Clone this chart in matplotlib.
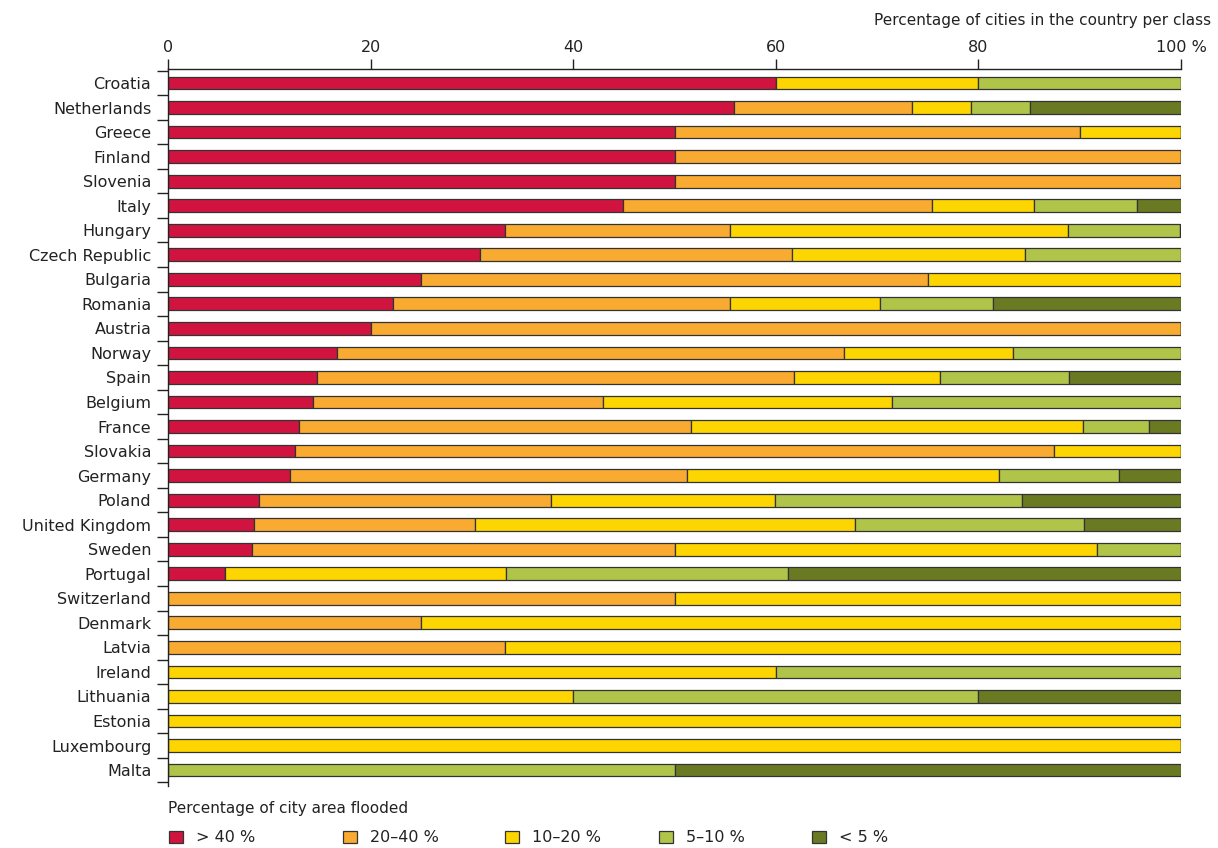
import matplotlib
matplotlib.use('Agg')
import matplotlib.pyplot as plt
import numpy as np

plt.rcParams['font.family'] = ['DejaVu Sans']
plt.rcParams['text.color'] = '#222222'
plt.rcParams['xtick.color'] = '#222222'
plt.rcParams['ytick.color'] = '#222222'

# 国家（从上到下）
countries = ['Croatia', 'Netherlands', 'Greece', 'Finland', 'Slovenia', 'Italy', 'Hungary',
             'Czech Republic', 'Bulgaria', 'Romania', 'Austria', 'Norway', 'Spain', 'Belgium',
             'France', 'Slovakia', 'Germany', 'Poland', 'United Kingdom', 'Sweden', 'Portugal',
             'Switzerland', 'Denmark', 'Latvia', 'Ireland', 'Lithuania', 'Estonia', 'Luxembourg',
             'Malta']

# 每个类别的百分比
over_40 = [60, 55.9, 50, 50, 50, 44.9, 33.3, 30.8, 25, 22.2, 20, 16.7, 14.7, 14.3,
           12.9, 12.5, 12.0, 9.0, 8.5, 8.3, 5.6, 0, 0, 0, 0, 0, 0, 0, 0]
from_20_40 = [0, 17.5, 40, 50, 50, 30.5, 22.2, 30.8, 50, 33.3, 80, 50, 47.1, 28.6,
              38.7, 75, 39.2, 28.8, 21.8, 41.7, 0, 50, 25, 33.3, 0, 0, 0, 0, 0]
from_10_20 = [20, 5.9, 10, 0, 0, 10.1, 33.3, 23.0, 25, 14.8, 0, 16.7, 14.4, 28.6,
              38.7, 12.5, 30.8, 22.1, 37.5, 41.7, 27.8, 50, 75, 66.7, 60, 40, 100, 100, 0]
from_5_10 = [20, 5.8, 0, 0, 0, 10.2, 11.1, 15.4, 0, 11.1, 0, 16.6, 12.7, 28.5,
             6.5, 0, 11.9, 24.4, 22.6, 8.3, 27.8, 0, 0, 0, 40, 40, 0, 0, 50]
under_5 = [0, 14.9, 0, 0, 0, 4.3, 0, 0, 0, 18.6, 0, 0, 11.1, 0,
           3.2, 0, 6.1, 15.7, 9.6, 0, 38.8, 0, 0, 0, 0, 20, 0, 0, 50]

class_labels = ['> 40 %', '20\u201340 %', '10\u201320 %', '5\u201310 %', '< 5 %']
class_colors = ['#D0143F', '#F9AA30', '#FDD500', '#B0C449', '#6A7A22']

fig = plt.figure(figsize=(12.18, 8.48), dpi=100)
ax = fig.add_axes([168 / 1218, 1 - 786 / 848, 1013 / 1218, 717 / 848])

y = np.arange(len(countries))
left = np.zeros(len(countries))
bars = []
for vals, lab, col in zip([over_40, from_20_40, from_10_20, from_5_10, under_5],
                          class_labels, class_colors):
    vals = np.array(vals, dtype=float)
    b = ax.barh(y, vals, left=left, height=0.52, color=col, edgecolor='#333333',
                linewidth=0.9, label=lab)
    bars.append(b)
    left = left + vals

# 坐标轴样式
ax.set_xlim(0, 100)
ax.set_ylim(28.65, -0.57)
ax.xaxis.tick_top()
ax.set_xticks([0, 20, 40, 60, 80, 100])
ax.set_xticklabels(['0', '20', '40', '60', '80', '100 %'])
ax.tick_params(axis='x', direction='out', length=7, width=1, pad=3, labelsize=11.5)

ax.set_yticks(y)
ax.set_yticklabels(countries)
ax.tick_params(axis='y', which='major', length=0, pad=12, labelsize=11.5)
ax.set_yticks(np.arange(-0.5, len(countries), 1), minor=True)
ax.tick_params(axis='y', which='minor', direction='out', length=8, width=1)

for s in ['right', 'bottom']:
    ax.spines[s].set_visible(False)
for s in ['top', 'left']:
    ax.spines[s].set_color('#222222')
    ax.spines[s].set_linewidth(1)

fig.text(1211 / 1218, 1 - 20 / 848, 'Percentage of cities in the country per class',
         ha='right', va='center', fontsize=11)

# 图例
fig.text(168 / 1218, 1 - 808 / 848, 'Percentage of city area flooded',
         ha='left', va='center', fontsize=11)
leg_x = [166, 340, 502, 656, 809]
for b, lab, lx in zip(bars, class_labels, leg_x):
    lg = fig.legend([b], [lab], loc='center left', bbox_to_anchor=(lx / 1218, 1 - 838 / 848),
                    frameon=False, fontsize=11.5, handlelength=0.85, handleheight=0.85,
                    handletextpad=0.8, borderaxespad=0, borderpad=0.2)

fig.savefig('out.png', dpi=100)
plt.close()
